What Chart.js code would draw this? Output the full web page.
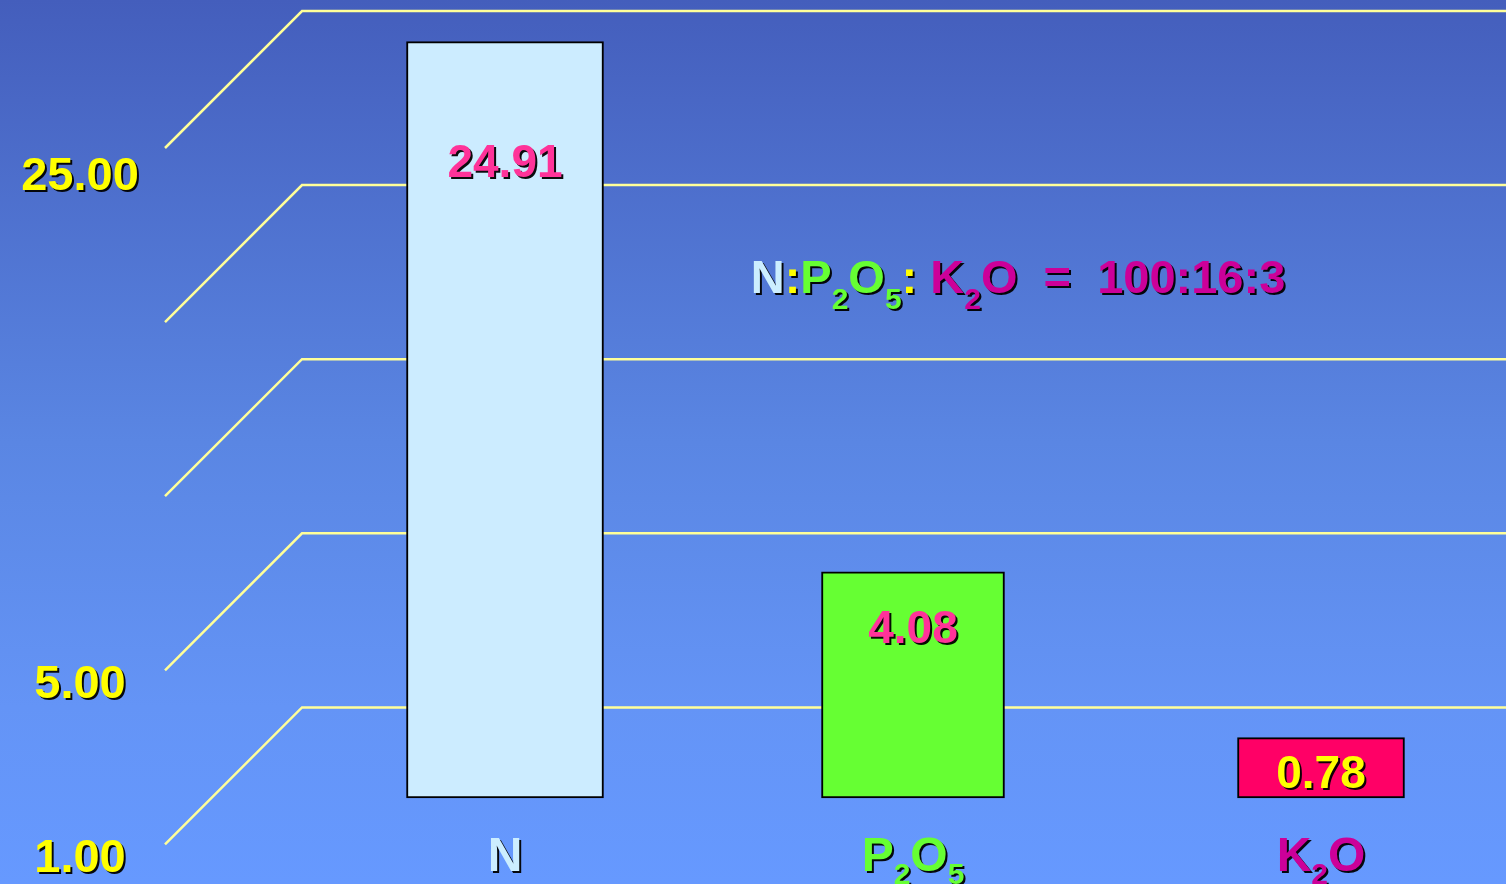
<!DOCTYPE html>
<html><head><meta charset="utf-8">
<script src="https://cdn.jsdelivr.net/npm/chart.js@4.4.1/dist/chart.umd.min.js"></script>
<style>html,body{margin:0;padding:0;overflow:hidden;background:#6699ff}canvas{display:block}</style>
</head><body>
<canvas id="c" width="1506" height="884"></canvas>
<script>
// ---- data ----
const categories = ['N', 'P2O5', 'K2O'];
const values = [24.91, 4.08, 0.78];
const valueLabels = ['24.91', '4.08', '0.78'];
const wallLevels = [0, 1, 2, 3, 4];
const wallTickLabels = ['1.00', '5.00', '', '', '25.00'];
const ratioText = [
  {t: 'N', c: '#CCEEFF'}, {t: ':', c: '#FFFF00'},
  {t: 'P', c: '#66FF33'}, {t: '2', c: '#66FF33', sub: true}, {t: 'O', c: '#66FF33'}, {t: '5', c: '#66FF33', sub: true},
  {t: ':', c: '#FFFF00'},
  {t: ' K', c: '#CC0099'}, {t: '2', c: '#CC0099', sub: true}, {t: 'O', c: '#CC0099'},
  {t: '  =  100:16:3', c: '#CC0099'}
];

// ---- styles ----
const barColors = ['#CCECFF', '#66FF33', '#FF0066'];
const barWidths = [197, 183, 167];
const valueColors = ['#FF3399', '#FF3399', '#FFFF00'];
const valueDrop = [135, 71, 50];
const tickLabelDrop = [28, 28, 28, 28, 42];
const catColors = ['#CCEEFF', '#66FF33', '#CC0099'];
const FONT = '"Liberation Sans", Arial, Helvetica, sans-serif';
const POW = 0.615;
const DEPTH = 137;

class PowerScale extends Chart.LinearScale {
  static id = 'power';
  static defaults = {};
  getPixelForValue(value) {
    if (value === null || value === undefined || isNaN(value)) return NaN;
    const f = v => Math.pow(Math.max(v, this.min), POW);
    const lo = f(this.min), hi = f(this.max);
    return this.getPixelForDecimal((f(value) - lo) / (hi - lo));
  }
  getValueForPixel(pixel) {
    const lo = Math.pow(this.min, POW), hi = Math.pow(this.max, POW);
    const d = this.getDecimalForPixel(pixel);
    return Math.pow(lo + d * (hi - lo), 1 / POW);
  }
}
Chart.register(PowerScale);

function shadowOn(ctx) {
  ctx.shadowColor = 'rgba(0,0,0,0.95)';
  ctx.shadowOffsetX = 2; ctx.shadowOffsetY = 2; ctx.shadowBlur = 0;
}
function richSegments(str, color) {
  const segs = [];
  for (const ch of str) segs.push({t: ch, c: color, sub: /[0-9]/.test(ch)});
  return segs;
}
function drawRich(ctx, segs, cx, baseline, size, subSize, subDrop) {
  const fontMain = 'bold ' + size + 'px ' + FONT;
  const fontSub = 'bold ' + subSize + 'px ' + FONT;
  let total = 0;
  for (const s of segs) { ctx.font = s.sub ? fontSub : fontMain; total += ctx.measureText(s.t).width; }
  let x = cx - total / 2;
  ctx.textAlign = 'left'; ctx.textBaseline = 'alphabetic';
  for (const s of segs) {
    ctx.font = s.sub ? fontSub : fontMain;
    ctx.fillStyle = s.c;
    ctx.fillText(s.t, x, baseline + (s.sub ? subDrop : 0));
    x += ctx.measureText(s.t).width;
  }
}

const decor = {
  id: 'decor',
  beforeDraw(chart) {
    const ctx = chart.ctx;
    const g = ctx.createLinearGradient(0, 0, 0, chart.height);
    g.addColorStop(0, '#445EBC');
    g.addColorStop(0.5, '#5A86E3');
    g.addColorStop(0.8, '#6494F6');
    g.addColorStop(1, '#6699FF');
    ctx.save(); ctx.fillStyle = g; ctx.fillRect(0, 0, chart.width, chart.height); ctx.restore();
  },
  beforeDatasetsDraw(chart) {
    const ctx = chart.ctx, wall = chart.scales.yWall, area = chart.chartArea;
    const wallLeft = area.left - 203;
    ctx.save();
    ctx.strokeStyle = '#FFFF99'; ctx.lineWidth = 2.5; ctx.lineJoin = 'miter';
    for (const lv of wallLevels) {
      const y = wall.getPixelForValue(lv);
      ctx.beginPath();
      ctx.moveTo(wallLeft - DEPTH, y + DEPTH);
      ctx.lineTo(wallLeft, y);
      ctx.lineTo(chart.width, y);
      ctx.stroke();
    }
    ctx.font = 'bold 47px ' + FONT; ctx.textAlign = 'center'; ctx.textBaseline = 'alphabetic';
    ctx.fillStyle = '#FFFF00'; shadowOn(ctx);
    wallLevels.forEach((lv, i) => {
      if (!wallTickLabels[i]) return;
      const y = wall.getPixelForValue(lv) + DEPTH + tickLabelDrop[i];
      ctx.fillText(wallTickLabels[i], wallLeft - DEPTH - 85, y);
    });
    ctx.restore();
  },
  afterDatasetsDraw(chart) {
    const ctx = chart.ctx, xs = chart.scales.x;
    ctx.save(); shadowOn(ctx);
    chart.data.datasets.forEach((ds, di) => {
      const meta = chart.getDatasetMeta(di);
      meta.data.forEach((bar, j) => {
        if (ds.data[j] === null) return;
        ctx.font = 'bold 46px ' + FONT; ctx.textAlign = 'center'; ctx.textBaseline = 'alphabetic';
        ctx.fillStyle = valueColors[j];
        ctx.fillText(valueLabels[j], bar.x, bar.y + valueDrop[j]);
      });
    });
    categories.forEach((c, i) => {
      drawRich(ctx, richSegments(c, catColors[i]), xs.getPixelForValue(i), 871, 48, 30, 13);
    });
    drawRich(ctx, ratioText, 1018, 293, 47, 30, 16);
    ctx.restore();
  }
};

new Chart(document.getElementById('c'), {
  type: 'bar',
  data: {
    labels: categories,
    datasets: categories.map((c, i) => ({
      label: c,
      data: values.map((v, j) => (j === i ? v : null)),
      backgroundColor: barColors[i],
      borderColor: '#000000',
      borderWidth: 2,
      borderSkipped: false,
      barThickness: barWidths[i],
      grouped: false,
      clip: false
    }))
  },
  options: {
    responsive: false,
    animation: false,
    devicePixelRatio: 1,
    layout: {padding: {left: 505, right: 185, top: 11, bottom: 86}},
    plugins: {legend: {display: false}, tooltip: {enabled: false}},
    scales: {
      x: {type: 'category', offset: false, display: false, grid: {display: false}},
      y: {type: 'power', min: 0.146, max: 26.5, display: false, grid: {display: false}},
      yWall: {type: 'linear', position: 'left', min: -0.52, max: 4, display: false, grid: {display: false}}
    }
  },
  plugins: [decor]
});
</script>
</body></html>
